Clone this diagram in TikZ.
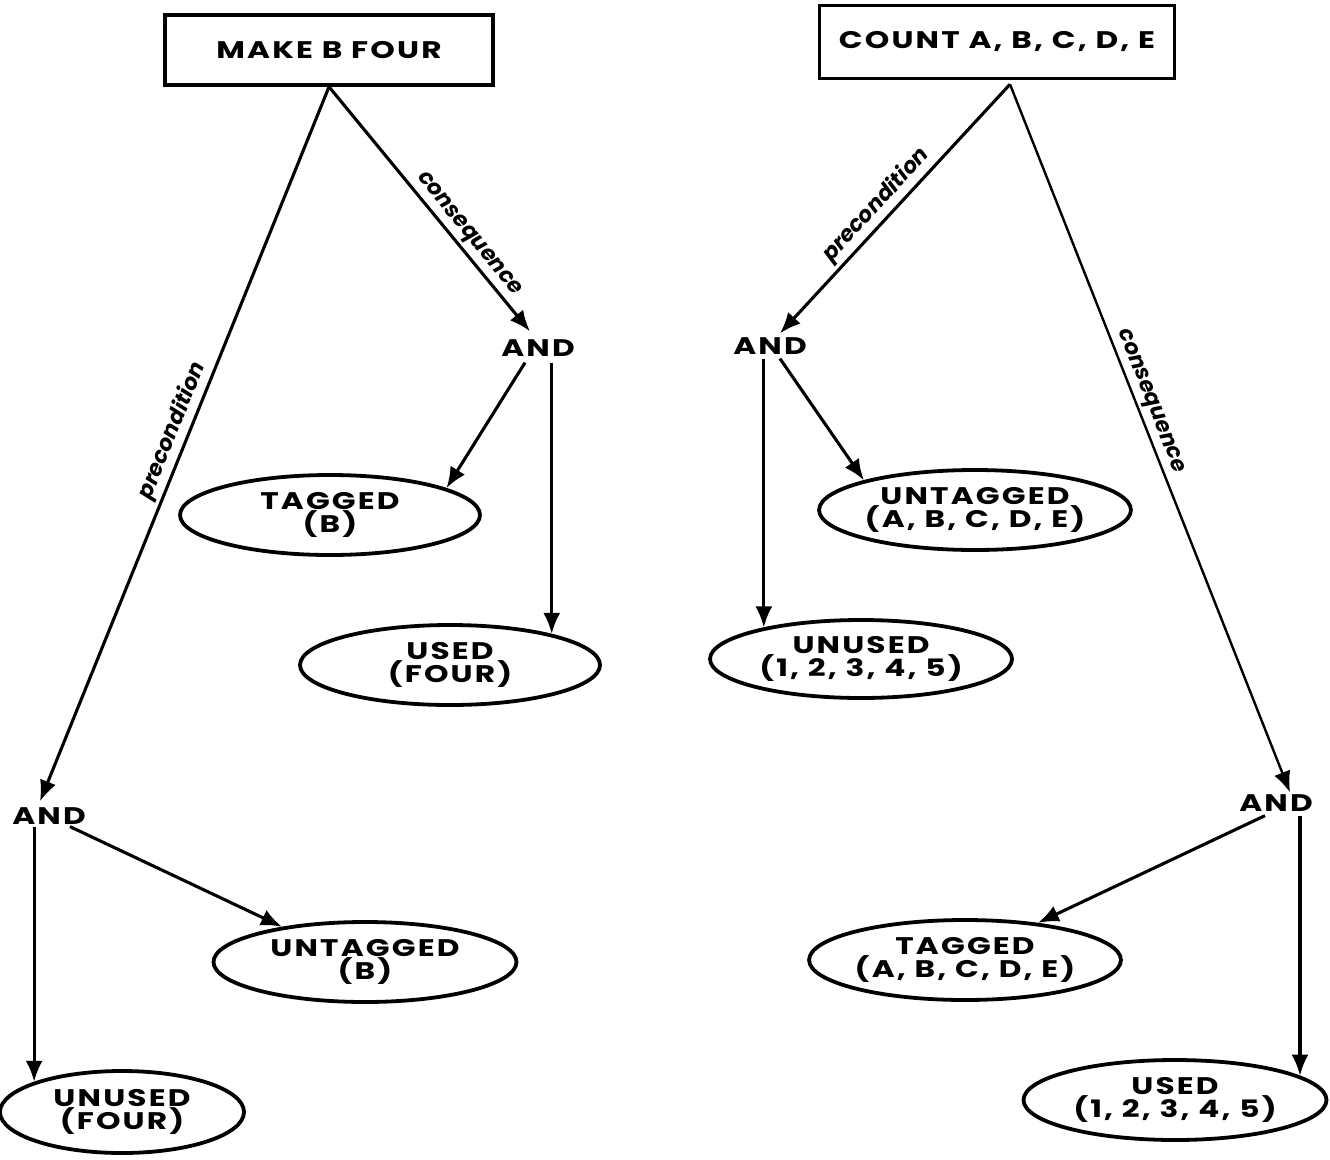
\documentclass[tikz,border=0pt]{standalone}
\usepackage{fontspec}
\setmainfont{Poppins}
\newfontfamily\lettering{Poppins}[FakeStretch=1.3, LetterSpace=9]
\usetikzlibrary{arrows.meta,shapes.geometric}
\begin{document}
\begin{tikzpicture}[x=1pt,y=-1pt,
  rbox/.style={draw, line width=3.6pt, inner sep=0pt,
    font=\lettering\fontsize{24}{26}\selectfont\bfseries},
  gate/.style={inner sep=2pt,
    font=\lettering\fontsize{24}{26}\selectfont\bfseries},
  oval/.style={draw, ellipse, line width=3.8pt, inner sep=0pt, align=center,
    minimum width=300pt, minimum height=80pt,
    font=\lettering\fontsize{24}{23}\selectfont\bfseries},
  arr/.style={line width=3.1pt, -{Latex[length=21pt,width=17pt]}},
  rel/.style={font=\fontsize{22}{24}\selectfont\bfseries\itshape, sloped, above, inner sep=3pt}
]
\useasboundingbox (0,0) rectangle (1330,1159);

% goal boxes
\node[rbox, minimum width=328pt, minimum height=70pt] (make) at (329,50) {MAKE B FOUR};
\node[rbox, minimum width=355pt, minimum height=73pt] (count) at (997,42) {COUNT A, B, C, D, E};

% conjunction nodes
\node[gate] (andA) at (538,348) {AND};
\node[gate] (andB) at (49,816) {AND};
\node[gate] (andC) at (770,346) {AND};
\node[gate] (andD) at (1276,803) {AND};

% states
\node[oval] (tagB) at (330,515) {TAGGED\\(B)};
\node[oval] (usedF) at (450,665) {USED\\(FOUR)};
\node[oval, minimum width=303pt] (untagB) at (365,962) {UNTAGGED\\(B)};
\node[oval, minimum width=244pt, minimum height=82pt] (unusedF) at (122,1112) {UNUSED\\(FOUR)};
\node[oval] (untagAE) at (975,510) {UNTAGGED\\(A, B, C, D, E)};
\node[oval, minimum width=302pt, minimum height=78pt] (unused15) at (861,659) {UNUSED\\(1, 2, 3, 4, 5)};
\node[oval] (tagAE) at (965,960) {TAGGED\\(A, B, C, D, E)};
\node[oval, minimum width=303pt] (used15) at (1175,1100) {USED\\(1, 2, 3, 4, 5)};

% MAKE B FOUR
\draw[arr] (make.south) -- node[rel, pos=0.64] {consequence} ([xshift=-8pt,yshift=6pt]andA.north);
\draw[arr] (make.south) -- node[rel, pos=0.49] {precondition} ([xshift=-9pt,yshift=4pt]andB.north);
\draw[arr] ([xshift=-13pt,yshift=-4pt]andA.south) -- (tagB.13);
\draw[arr] ([yshift=-4pt]andA.south -| usedF.17) -- (usedF.17);
\draw[arr] ([xshift=21pt]andB.south) -- (untagB.157);
\draw[arr] (andB.south -| unusedF.161) -- (unusedF.161);

% COUNT A, B, C, D, E
\draw[arr] ([xshift=13pt,yshift=-4pt]count.south) -- node[rel, pos=0.53] {precondition} ([xshift=10pt,yshift=2pt]andC.north);
\draw[arr, line width=2.4pt] ([xshift=13pt,yshift=-4pt]count.south) -- node[rel, pos=0.455] {consequence} ([xshift=14pt]andD.north);
\draw[arr] ([xshift=10pt,yshift=-2pt]andC.south) -- (untagAE.165);
\draw[arr] ([yshift=-2pt]andC.south -| unused15.162) -- (unused15.162);
\draw[arr] ([xshift=-11pt,yshift=-2pt]andD.south) -- (tagAE.27);
\draw[arr] ([yshift=-2pt]andD.south -| used15.11) -- (used15.11);
\end{tikzpicture}
\end{document}
